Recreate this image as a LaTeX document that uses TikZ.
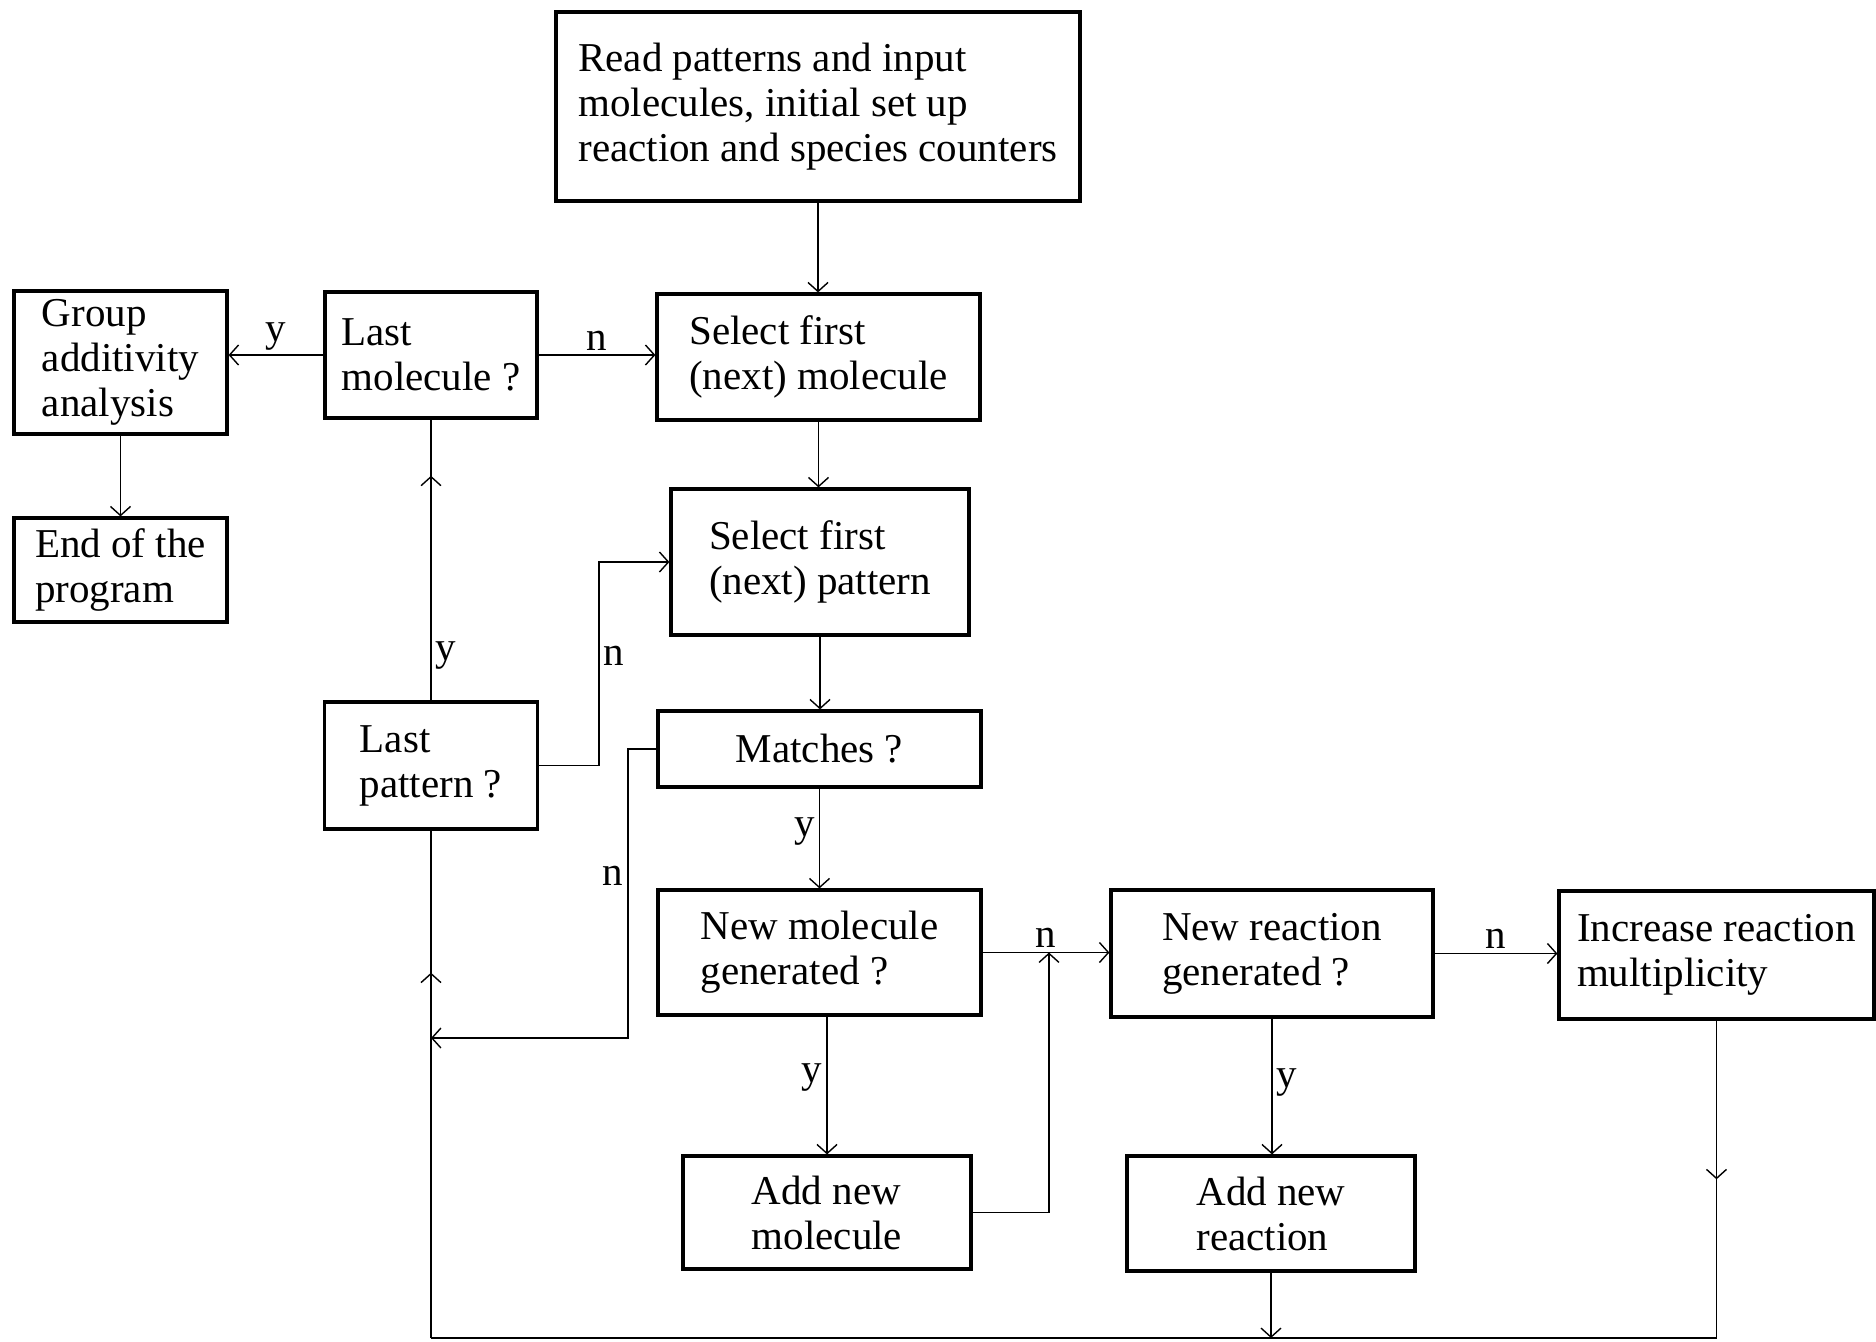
\documentclass[tikz,border=0pt]{standalone}
\usepackage{fontspec}
\setmainfont{Liberation Serif}
\usetikzlibrary{arrows.meta,decorations.markings}

\begin{document}
\begin{tikzpicture}[x=0.5pt,y=-0.5pt,
  font=\fontsize{20.5}{22.5}\selectfont,
  box/.style={draw,line width=1.6pt,align=left,inner sep=0pt},
  link/.style={line width=0.7pt},
  >={Straight Barb[length=4.5pt,width=10pt]},
  midarrow/.style={postaction={decorate},decoration={markings,mark=at position #1 with {\arrow{>}}}},
  midarrow/.default=0.5,
  lab/.style={inner sep=2pt}]
  \useasboundingbox (0,0) rectangle (1876,1341);
  \node[box,minimum width=262pt,minimum height=94.5pt] (read) at (818,106.5) {Read patterns and input\\molecules, initial set up\\reaction and species counters};
  \node[box,minimum width=161.5pt,minimum height=63pt] (selmol) at (818.5,357) {Select first\\(next) molecule};
  \node[box,minimum width=106pt,minimum height=63pt] (lastmol) at (431,355) {Last\\molecule ?};
  \node[box,minimum width=106.5pt,minimum height=71.5pt] (group) at (120.5,362.5) {Group\\additivity\\analysis};
  \node[box,minimum width=106.5pt,minimum height=52pt] (endprog) at (120.5,570) {End of the\\program};
  \node[box,minimum width=149pt,minimum height=73pt] (selpat) at (820,562) {Select first\\(next) pattern};
  \node[box,minimum width=106.5pt,minimum height=63.5pt] (lastpat) at (431,765.5) {Last\\pattern ?};
  \node[box,minimum width=161.5pt,minimum height=38pt] (match) at (819.5,749) {Matches ?};
  \node[box,minimum width=161.5pt,minimum height=62.5pt] (newmol) at (819.5,952.5) {New molecule\\generated ?};
  \node[box,minimum width=161pt,minimum height=63.5pt] (newreac) at (1272,953.5) {New reaction\\generated ?};
  \node[box,minimum width=157.5pt,minimum height=64pt] (incr) at (1716.5,955) {Increase reaction\\multiplicity};
  \node[box,minimum width=144pt,minimum height=56.5pt] (addmol) at (827,1212.5) {Add new\\molecule};
  \node[box,minimum width=144pt,minimum height=57.5pt] (addreac) at (1271,1213.5) {Add new\\reaction};

  \coordinate (px) at (599,0);
  \coordinate (mx) at (628,1038);
  \coordinate (jx) at (1049,0);
  \coordinate (bot) at (0,1338);

  \draw[link,->] (read) -- (read |- selmol.north);
  \draw[link,->] (lastmol.east) -- node[lab,above]{n} (lastmol.east -| selmol.west);
  \draw[link,->] (lastmol.west) -- node[lab,above]{y} (lastmol.west -| group.east);
  \draw[link,->] (group) -- (endprog);
  \draw[link,->] (selmol) -- (selmol |- selpat.north);
  \draw[link,midarrow=0.8] (lastpat.north) -- node[lab,right,pos=0.16]{y} (lastpat.north |- lastmol.south);
  \draw[link,->] (lastpat.east) -| node[lab,right,pos=0.77]{n} (px |- selpat.west) -- (selpat.west);
  \draw[link,->] (selpat) -- (selpat |- match.north);
  \draw[link,->] (match.west) -| node[lab,left,pos=0.72]{n} (mx) -- (mx -| lastpat.south);
  \draw[link,->] (match) -- node[lab,left,pos=0.43]{y} (match |- newmol.north);
  \draw[link,->] (newmol.east) -- node[lab,above]{n} (newmol.east -| newreac.west);
  \draw[link,->] (addmol.north |- newmol.south) -- node[lab,left,pos=0.44]{y} (addmol.north);
  \draw[link,->] (addmol.east) -| (jx |- newmol.east);
  \draw[link,->] (newreac.east) -- node[lab,above]{n} (newreac.east -| incr.west);
  \draw[link,->] (newreac) -- node[lab,right,pos=0.47]{y} (newreac |- addreac.north);
  \draw[link,->] (addreac) -- (addreac |- bot);
  \draw[link,midarrow] (incr.south) -- (incr.south |- bot);
  \draw[link] (incr.south |- bot) -- (lastpat.south |- bot);
  \draw[link,midarrow=0.72] (lastpat.south |- bot) -- (lastpat.south);
\end{tikzpicture}
\end{document}
